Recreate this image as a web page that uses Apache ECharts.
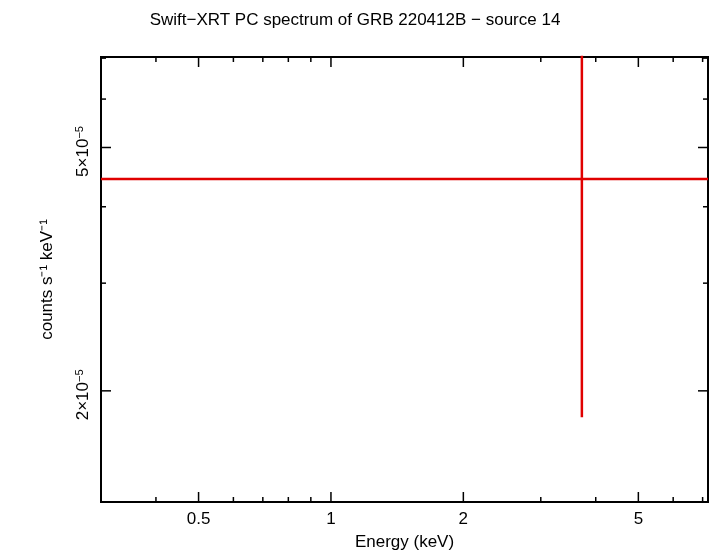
<!DOCTYPE html>
<html><head><meta charset="utf-8">
<script src="https://cdn.jsdelivr.net/npm/echarts@6/dist/echarts.min.js"></script>
<style>body{margin:0}#c{width:710px;height:556px}</style></head>
<body><div id="c"></div>
<script>
const xRange = [0.3, 7.2];
const yRange = [1.316e-5, 7.03e-5];
const xTicks = [0.3,0.4,0.5,0.6,0.7,0.8,0.9,1,2,3,4,5,6,7];
const xMajor = [0.5,1,2,5];
const xLabels = ['0.5','1','2','5'];
const yTicks = [2e-5,3e-5,4e-5,5e-5,6e-5,7e-5];
const yMajor = [2e-5,5e-5];
const yLabels = ['2', '5'];
const binLo = [0.3], binHi = [7.2], binCenter = [3.72], rate = [4.44e-5], rateLo = [1.81e-5], rateHi = [7.5e-5];

const tickData = [];
xTicks.forEach(v => tickData.push([v, 'x']));
yTicks.forEach(v => tickData.push([v, 'y']));

const chart = echarts.init(document.getElementById('c'));
const blk = '#000';
chart.setOption({
  animation: false,
  title: {text: 'Swift\u2212XRT PC spectrum of GRB 220412B \u2212 source 14', left: 'center', top: 7,
    textStyle: {fontFamily: 'Liberation Sans, Arial', fontWeight: 'normal', fontSize: 17, color: blk}},
  grid: {left: 101, right: 2, top: 57, bottom: 51, show: true, borderColor: blk, borderWidth: 2},
  xAxis: {type: 'log', min: xRange[0], max: xRange[1], axisLine: {show: false}, axisTick: {show: false}, axisLabel: {show: false}, splitLine: {show: false},
    name: 'Energy (keV)', nameLocation: 'middle', nameGap: 32, nameTextStyle: {fontFamily: 'Liberation Sans, Arial', fontSize: 17, color: blk}},
  yAxis: {type: 'log', min: yRange[0], max: yRange[1], axisLine: {show: false}, axisTick: {show: false}, axisLabel: {show: false}, splitLine: {show: false},
    name: 'counts s\u207B\u00B9 keV\u207B\u00B9', nameLocation: 'middle', nameGap: 45, nameTextStyle: {fontFamily: 'Liberation Sans, Arial', fontSize: 17, color: blk}},
  series: [
    {type: 'custom', coordinateSystem: 'cartesian2d', clip: false, silent: true, data: tickData,
      renderItem: (params, api) => {
        const v = api.value(0);
        const isX = tickData[params.dataIndex][1] === 'x';
        const children = [];
        const st = {stroke: blk, lineWidth: 1.5};
        if (isX) {
          const major = xMajor.includes(v);
          const L = major ? 10 : 5;
          const p0 = api.coord([v, yRange[0]]), p1 = api.coord([v, yRange[1]]);
          children.push({type: 'line', shape: {x1: p0[0], y1: p0[1], x2: p0[0], y2: p0[1]-L}, style: st});
          children.push({type: 'line', shape: {x1: p1[0], y1: p1[1], x2: p1[0], y2: p1[1]+L}, style: st});
          if (major) children.push({type: 'text', x: p0[0], y: p0[1]+9, style: {text: xLabels[xMajor.indexOf(v)], fill: blk, font: '17px Liberation Sans, Arial', align: 'center', verticalAlign: 'top'}});
        } else {
          const major = yMajor.includes(v);
          const L = major ? 10 : 5;
          const p0 = api.coord([xRange[0], v]), p1 = api.coord([xRange[1], v]);
          children.push({type: 'line', shape: {x1: p0[0], y1: p0[1], x2: p0[0]+L, y2: p0[1]}, style: st});
          children.push({type: 'line', shape: {x1: p1[0], y1: p1[1], x2: p1[0]-L, y2: p1[1]}, style: st});
          if (major) children.push({type: 'text', x: p0[0]-8, y: p0[1]+4, rotation: Math.PI/2,
            style: {text: '{b|' + yLabels[yMajor.indexOf(v)] + '\u00D710}{s|\u22125}', align: 'center', verticalAlign: 'bottom',
              rich: {b: {fontSize: 17, fontFamily: 'Liberation Sans, Arial', color: blk}, s: {fontSize: 11, fontFamily: 'Liberation Sans, Arial', color: blk, verticalAlign: 'top', padding: [0,0,8,0]}}}});
        }
        return {type: 'group', children};
      }},
    {type: 'line', symbol: 'none', lineStyle: {color: '#e00000', width: 2.5}, data: [[binLo[0], rate[0]], [binHi[0], rate[0]]]},
    {type: 'line', symbol: 'none', lineStyle: {color: '#e00000', width: 2.5}, data: [[binCenter[0], rateLo[0]], [binCenter[0], rateHi[0]]]}
  ]
});
</script></body></html>
